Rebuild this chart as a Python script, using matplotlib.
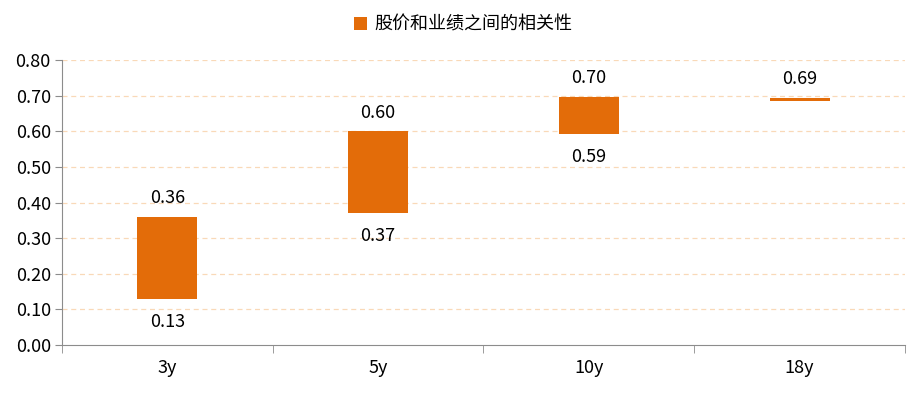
import matplotlib
matplotlib.use('Agg')
import matplotlib.pyplot as plt
import numpy as np

plt.rcParams['font.family'] = ['Noto Sans CJK SC', 'DejaVu Sans']

categories = ['3y', '5y', '10y', '18y']
low = [0.13, 0.37, 0.593, 0.685]
high = [0.36, 0.60, 0.696, 0.694]
series_name = '股价和业绩之间的相关性'
yticks = [0.0, 0.1, 0.2, 0.3, 0.4, 0.5, 0.6, 0.7, 0.8]

bar_color = '#E36C09'
grid_color = '#F9D9B8'
axis_color = '#8C8C8C'

fig = plt.figure(figsize=(9.21, 3.93), dpi=100)
ax = fig.add_axes([0.0673, 0.1221, 0.9153, 0.7252])

x = np.arange(len(categories))
heights = np.array(high) - np.array(low)
ax.bar(x, heights, bottom=low, width=0.285, color=bar_color, label=series_name, zorder=3)

for xi, lo, hi in zip(x, low, high):
    ax.annotate(f'{hi:.2f}', (xi, hi), xytext=(0, 7), textcoords='offset points',
                ha='center', va='bottom', fontsize=13)
    if hi - lo > 0.05:
        ax.annotate(f'{lo:.2f}', (xi, lo), xytext=(0, -10), textcoords='offset points',
                    ha='center', va='top', fontsize=13)

ax.set_xlim(-0.5, len(categories) - 0.5)
ax.set_ylim(0, 0.8)
ax.set_yticks(yticks)
ax.set_yticklabels([f'{v:.2f}' for v in yticks], fontsize=13)
ax.set_xticks(x)
ax.set_xticklabels(categories, fontsize=13)
ax.tick_params(axis='x', length=0, pad=10)
ax.set_xticks(np.arange(-0.5, len(categories)), minor=True)
ax.tick_params(axis='x', which='minor', length=6, color=axis_color)
ax.tick_params(axis='y', length=5, color=axis_color, pad=3)

for v in yticks[1:]:
    ax.axhline(v, color=grid_color, linestyle=(0, (4, 3)), linewidth=0.9, zorder=1)

ax.spines['top'].set_visible(False)
ax.spines['right'].set_visible(False)
ax.spines['left'].set_color(axis_color)
ax.spines['bottom'].set_color(axis_color)

ax.legend(loc='center', bbox_to_anchor=(0.476, 1.123), frameon=False, fontsize=13,
          handlelength=0.7, handleheight=0.7, handletextpad=0.4)

fig.savefig('out.png', dpi=100)
